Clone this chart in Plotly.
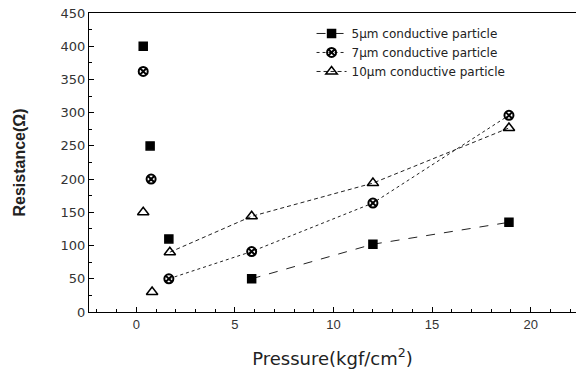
import plotly.graph_objects as go

# Data
names = ["5\u00b5m conductive particle", "7\u00b5m conductive particle", "10\u00b5m conductive particle"]
x5 = [0.35, 0.7, 1.65, 5.85, 12.0, 18.9]
y5 = [400, 250, 110, 50, 102, 135]
x7 = [0.35, 0.75, 1.65, 5.85, 12.0, 18.9]
y7 = [362, 200, 50, 91, 164, 296]
x10 = [0.35, 0.8, 1.7, 5.85, 12.0, 18.9]
y10 = [150, 30, 90, 144, 194, 277]
# index from which the connecting line is drawn (rising part)
line_start = [3, 2, 2]
x_ticks = [0, 5, 10, 15, 20]

series = [(x5, y5), (x7, y7), (x10, y10)]
symbols = ["square", "circle-x-open", "triangle-up-open"]
sizes = [8, 9, 10]
dashes = ["dash", "dot", "4px,3px"]

fig = go.Figure()
for i, ((xs, ys), nm) in enumerate(zip(series, names)):
    s = line_start[i]
    fig.add_trace(go.Scatter(
        x=xs[s:], y=ys[s:], mode="lines+markers", name=nm,
        line=dict(color="#222", width=1, dash=dashes[i]),
        marker=dict(symbol=symbols[i], size=sizes[i], color="black",
                    line=dict(color="black", width=2 if i == 1 else 1.5)),
    ))
for i, (xs, ys) in enumerate(series):
    s = line_start[i]
    fig.add_trace(go.Scatter(
        x=xs[:s], y=ys[:s], mode="markers", showlegend=False,
        marker=dict(symbol=symbols[i], size=sizes[i], color="black",
                    line=dict(color="black", width=2 if i == 1 else 1.5)),
    ))

fig.update_layout(
    width=576, height=379,
    margin=dict(l=89, r=0, t=13, b=67),
    paper_bgcolor="white", plot_bgcolor="white",
    font=dict(family="Liberation Sans, Arial, sans-serif", color="#222"),
    legend=dict(x=0.457, y=0.98, xanchor="left", yanchor="top",
                bgcolor="rgba(0,0,0,0)",
                font=dict(family="DejaVu Sans", size=12, color="#222"),
                tracegroupgap=0, itemwidth=30),
    showlegend=True,
)
fig.update_xaxes(
    range=[-2.4, 22.3], tickvals=x_ticks, ticktext=[str(v) for v in x_ticks],
    showline=True, linecolor="black", linewidth=1, mirror=True,
    ticks="inside", ticklen=5, tickcolor="black",
    minor=dict(ticks="inside", ticklen=3, dtick=1, tickcolor="black"),
    showgrid=False, zeroline=False,
    tickfont=dict(size=13, color="#333"),
    title=dict(text="Pressure(kgf/cm<sup>2</sup>)",
               font=dict(family="DejaVu Sans", size=18, color="#222"), standoff=21),
)
fig.update_yaxes(
    range=[0, 450], dtick=50,
    showline=True, linecolor="black", linewidth=1,
    ticks="inside", ticklen=5, tickcolor="black",
    minor=dict(ticks="inside", ticklen=3, dtick=25, tickcolor="black"),
    showgrid=False, zeroline=False,
    tickfont=dict(family="DejaVu Sans", size=13, color="#333"),
    title=dict(text="<b>Resistance(\u03a9)</b>", font=dict(size=16, color="#222"), standoff=30),
)

fig.write_html("out.html")
